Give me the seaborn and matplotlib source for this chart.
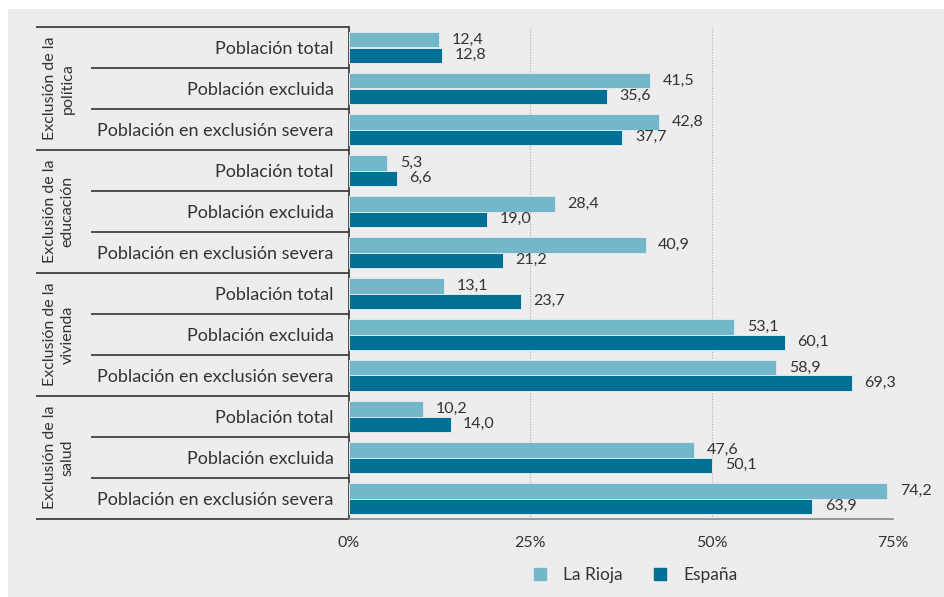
import matplotlib
matplotlib.use("Agg")
import matplotlib.pyplot as plt
from matplotlib.lines import Line2D
from matplotlib.patches import Rectangle
import pandas as pd
import seaborn as sns

# datos
grupos = ["Exclusión de la\npolítica", "Exclusión de la\neducación",
          "Exclusión de la\nvivienda", "Exclusión de la\nsalud"]
subgrupos = ["Población total", "Población excluida", "Población en exclusión severa"]
la_rioja = [12.4, 41.5, 42.8, 5.3, 28.4, 40.9, 13.1, 53.1, 58.9, 10.2, 47.6, 74.2]
espana = [12.8, 35.6, 37.7, 6.6, 19.0, 21.2, 23.7, 60.1, 69.3, 14.0, 50.1, 63.9]
series = ["La Rioja", "España"]
xticks = [0, 25, 50, 75]

colores = {"La Rioja": "#74B6CA", "España": "#007095"}
txt = "#333333"

filas = [str(i) for i in range(len(la_rioja))]
df = pd.DataFrame({
    "fila": filas * 2,
    "valor": la_rioja + espana,
    "serie": ["La Rioja"] * len(filas) + ["España"] * len(filas),
})

sns.set_style("white")
plt.rcParams["font.family"] = ["Lato", "DejaVu Sans"]

fig = plt.figure(figsize=(9.44, 5.97), dpi=100)
fig.patch.set_facecolor("white")
fig.patches.append(Rectangle((8 / 944, 0), 1, 1 - 9 / 597, transform=fig.transFigure,
                             facecolor="#EDEDED", edgecolor="none", zorder=-10))

ax = fig.add_axes([349 / 944, 1 - 519 / 597, (893 - 349) / 944, (519 - 27) / 597])
ax.set_facecolor("none")

sns.barplot(data=df, x="valor", y="fila", hue="serie", order=filas,
            hue_order=series, palette=colores, saturation=1, orient="h", width=0.76,
            edgecolor="#DCE9EE", linewidth=0.7, legend=False, ax=ax, zorder=3)

n = len(filas)
ax.set_xlim(0, 75)
ax.set_ylim(n - 0.5, -0.5)
ax.set_xticks(xticks)
ax.set_xticklabels([f"{t}%" for t in xticks], fontsize=11.5, color=txt)
ax.set_yticks(range(n))
ax.set_yticklabels(subgrupos * len(grupos), fontsize=13, color=txt)
ax.tick_params(axis="y", length=0, pad=11)
ax.tick_params(axis="x", length=6, width=1, color="#888888", pad=6, direction="out")
ax.set_xlabel("")
ax.set_ylabel("")

for t in xticks[1:]:
    ax.axvline(t, color="#AAAAAA", lw=0.8, ls=(0, (1, 1.5)), zorder=1)

for s in ["top", "right"]:
    ax.spines[s].set_visible(False)
ax.spines["bottom"].set_color("#888888")
ax.spines["bottom"].set_linewidth(1.2)
ax.spines["left"].set_color("#333333")
ax.spines["left"].set_linewidth(1.2)

# etiquetas de valor
for cont in ax.containers:
    etiquetas = [f"{b.get_width():.1f}".replace(".", ",") for b in cont]
    ax.bar_label(cont, labels=etiquetas, padding=9, fontsize=11.5, color=txt)

# separadores y etiquetas de grupo
tr = ax.get_yaxis_transform()
x_grupo = (36 - 349) / 544
x_sub = (91 - 349) / 544
for i in range(n + 1):
    y = i - 0.5
    x0 = x_grupo if i % 3 == 0 else x_sub
    ax.plot([x0, 0], [y, y], transform=tr, color="#333333", lw=1.2,
            clip_on=False, solid_capstyle="butt")

for g, nombre in enumerate(grupos):
    ax.text((59 - 349) / 544, g * 3 + 1, nombre, transform=tr, rotation=90,
            ha="center", va="center", multialignment="center",
            fontsize=11.5, color=txt, linespacing=1.3)

handles = [Line2D([], [], marker="s", ls="none", markersize=8.5,
                  markerfacecolor=colores[s], markeredgecolor=colores[s]) for s in series]
fig.legend(handles, series, loc="center", bbox_to_anchor=(630 / 944, 1 - 575 / 597),
           ncol=2, frameon=False, fontsize=12.5, handletextpad=0.3, columnspacing=1.2,
           labelcolor=txt)

fig.savefig("out.png", dpi=100, facecolor=fig.get_facecolor())
